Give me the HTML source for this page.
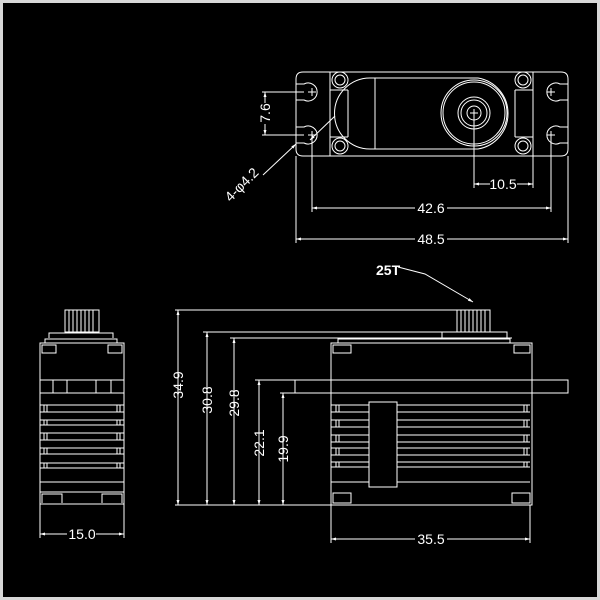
<!DOCTYPE html>
<html><head><meta charset="utf-8"><style>
html,body{margin:0;padding:0;background:#000;}
svg{display:block;}
text{font-family:"Liberation Sans",sans-serif;fill:#fff;font-size:14px;}
</style></head><body>
<svg width="600" height="600" viewBox="0 0 600 600">
<rect x="0" y="0" width="600" height="600" fill="#000"/>
<rect x="1.5" y="1.5" width="597" height="597" fill="none" stroke="#d8d8d8" stroke-width="3"/>
<defs>
<marker id="a" viewBox="0 0 10 10" refX="10" refY="5" markerWidth="10" markerHeight="5" orient="auto-start-reverse"><path d="M0,2 L10,5 L0,8 z" fill="#fff"/></marker>
</defs>
<g stroke="#fff" stroke-width="1" fill="none">
<!-- TOP VIEW -->
<path d="M303,72 H561 Q568,72 568,79 V149 Q568,156 561,156 H303 Q296,156 296,149 V79 Q296,72 303,72 Z"/>
<path d="M296,84 H304 A9,9 0 1 1 304,100 H296"/>
<path d="M296,127 H304 A9,9 0 1 1 304,143 H296"/>
<path d="M568,84 H560 A9,9 0 1 0 560,100 H568"/>
<path d="M568,127 H560 A9,9 0 1 0 560,143 H568"/>
<path d="M308,92 h8 M312,88 v8 M308,135 h8 M312,131 v8 M547,92 h8 M551,88 v8 M547,135 h8 M551,131 v8"/>
<rect x="330" y="72" width="203" height="84"/>
<line x1="348" y1="90" x2="348" y2="137"/><line x1="515" y1="90" x2="515" y2="137"/>
<line x1="330" y1="90" x2="348" y2="90"/><line x1="330" y1="137" x2="348" y2="137"/>
<line x1="515" y1="90" x2="533" y2="90"/><line x1="515" y1="137" x2="533" y2="137"/>
<circle cx="340" cy="80" r="8"/><circle cx="340" cy="80" r="5"/>
<circle cx="340" cy="146" r="8"/><circle cx="340" cy="146" r="5"/>
<circle cx="523" cy="80" r="8"/><circle cx="523" cy="80" r="5"/>
<circle cx="523" cy="146" r="8"/><circle cx="523" cy="146" r="5"/>
<path d="M375,78 H370 A35,35 0 0 0 370,149 H375"/>
<path d="M375,78 H478 A36,36 0 0 1 478,149 H375 Z"/>
<circle cx="474" cy="113" r="33"/><circle cx="474" cy="113" r="31"/>
<circle cx="474" cy="113" r="16"/><circle cx="474" cy="113" r="13"/><circle cx="474" cy="113" r="7"/>
<path d="M470,113 h8 M474,109 v8"/>
<!-- dims top -->
<line x1="474" y1="113" x2="474" y2="188"/><line x1="533" y1="156" x2="533" y2="188"/>
<line x1="474" y1="184" x2="490" y2="184" marker-start="url(#a)"/><line x1="517" y1="184" x2="533" y2="184" marker-end="url(#a)"/>
<line x1="312" y1="135" x2="312" y2="212"/><line x1="551" y1="135" x2="551" y2="212"/>
<line x1="312" y1="208" x2="415" y2="208" marker-start="url(#a)"/><line x1="447" y1="208" x2="551" y2="208" marker-end="url(#a)"/>
<line x1="296" y1="156" x2="296" y2="243"/><line x1="568" y1="156" x2="568" y2="243"/>
<line x1="296" y1="239" x2="415" y2="239" marker-start="url(#a)"/><line x1="447" y1="239" x2="568" y2="239" marker-end="url(#a)"/>
<line x1="262" y1="92" x2="304" y2="92"/><line x1="262" y1="135" x2="304" y2="135"/>
<line x1="265" y1="92" x2="265" y2="103" marker-start="url(#a)"/><line x1="265" y1="124" x2="265" y2="135" marker-end="url(#a)"/>
<line x1="335" y1="116" x2="310" y2="140" marker-end="url(#a)"/>
<line x1="296" y1="144" x2="263" y2="175" marker-start="url(#a)"/>
<!-- SIDE VIEW -->
<line x1="175" y1="310" x2="490" y2="310"/>
<line x1="203" y1="332" x2="507" y2="332"/>
<line x1="230" y1="338" x2="512" y2="338"/>
<line x1="255" y1="380" x2="331" y2="380"/>
<line x1="280" y1="393" x2="295" y2="393"/>
<line x1="175" y1="505" x2="532" y2="505"/>
<line x1="178" y1="310" x2="178" y2="505" marker-start="url(#a)" marker-end="url(#a)"/>
<line x1="207" y1="332" x2="207" y2="505" marker-start="url(#a)" marker-end="url(#a)"/>
<line x1="234" y1="338" x2="234" y2="505" marker-start="url(#a)" marker-end="url(#a)"/>
<line x1="259" y1="380" x2="259" y2="505" marker-start="url(#a)" marker-end="url(#a)"/>
<line x1="283" y1="393" x2="283" y2="505" marker-start="url(#a)" marker-end="url(#a)"/>
<rect x="457" y="310" width="33" height="22"/>
<path d="M461,310v22M465,310v22M469,310v22M473,310v22M477,310v22M481,310v22M485,310v22"/>
<rect x="442" y="332" width="65" height="6"/>
<path d="M338,343 V339 H510 V343"/>
<rect x="331" y="343" width="201" height="162"/>
<rect x="295" y="380" width="273" height="13"/>
<rect x="333" y="345" width="18" height="8"/><rect x="514" y="345" width="16" height="8"/>
<rect x="369" y="402" width="28" height="85"/>
<path d="M331,405H369M397,405H530M331,412H369M397,412H530M331,420H369M397,420H530M331,427H369M397,427H530M331,435H369M397,435H530M331,442H369M397,442H530M331,448H369M397,448H530M331,455H369M397,455H530M331,462H369M397,462H530M331,467H369M397,467H530M331,482H369M397,482H530"/>
<path d="M336,405v7M339,405v7M524,405v7M527,405v7M336,420v7M339,420v7M524,420v7M527,420v7M336,435v7M339,435v7M524,435v7M527,435v7M336,448v7M339,448v7M524,448v7M527,448v7M336,462v5M339,462v5M524,462v5M527,462v5"/>
<rect x="333" y="493" width="18" height="10"/><rect x="512" y="493" width="18" height="10"/>
<line x1="331" y1="505" x2="331" y2="543"/><line x1="530" y1="505" x2="530" y2="543"/>
<line x1="331" y1="539" x2="415" y2="539" marker-start="url(#a)"/><line x1="447" y1="539" x2="530" y2="539" marker-end="url(#a)"/>
<path d="M398,267 L425,274 L473,302" marker-end="url(#a)"/>
<!-- FRONT VIEW -->
<rect x="65" y="310" width="34" height="22"/>
<path d="M69,310v22M73,310v22M77,310v22M81,310v22M85,310v22M89,310v22M93,310v22"/>
<path d="M49,338 V333 H113 V338"/>
<path d="M45,343 V339 H117 V343"/>
<rect x="40" y="343" width="84" height="161"/>
<rect x="42" y="345" width="14" height="8"/><rect x="108" y="345" width="14" height="8"/>
<path d="M40,380H124M40,393H124M40,405H124M40,412H124M40,420H124M40,425H124M40,433H124M40,440H124M40,448H124M40,454H124M40,463H124M40,468H124M40,482H124M40,492H124"/>
<path d="M53,380v13M67,380v13M96,380v13M111,380v13"/>
<path d="M44,405v7M47,405v7M117,405v7M120,405v7M44,420v5M47,420v5M117,420v5M120,420v5M44,433v7M47,433v7M117,433v7M120,433v7M44,448v6M47,448v6M117,448v6M120,448v6M44,463v5M47,463v5M117,463v5M120,463v5"/>
<path d="M42,503 V494 H62 V503 M102,503 V494 H122 V503"/>
<line x1="40" y1="504" x2="40" y2="538"/><line x1="124" y1="504" x2="124" y2="538"/>
<line x1="40" y1="534" x2="67" y2="534" marker-start="url(#a)"/><line x1="96" y1="534" x2="124" y2="534" marker-end="url(#a)"/>
</g>
<text x="503" y="189" text-anchor="middle">10.5</text>
<text x="431" y="213" text-anchor="middle">42.6</text>
<text x="431" y="244" text-anchor="middle">48.5</text>
<text transform="translate(270,113) rotate(-90)" text-anchor="middle">7.6</text>
<text transform="translate(245,188) rotate(-45)" text-anchor="middle">4-φ4.2</text>
<text x="376" y="275" font-weight="bold">25T</text>
<text transform="translate(183,385) rotate(-90)" text-anchor="middle">34.9</text>
<text transform="translate(212,400) rotate(-90)" text-anchor="middle">30.8</text>
<text transform="translate(239,403) rotate(-90)" text-anchor="middle">29.8</text>
<text transform="translate(264,443) rotate(-90)" text-anchor="middle">22.1</text>
<text transform="translate(288,449) rotate(-90)" text-anchor="middle">19.9</text>
<text x="431" y="544" text-anchor="middle">35.5</text>
<text x="82" y="539" text-anchor="middle">15.0</text>
</svg>
</body></html>
